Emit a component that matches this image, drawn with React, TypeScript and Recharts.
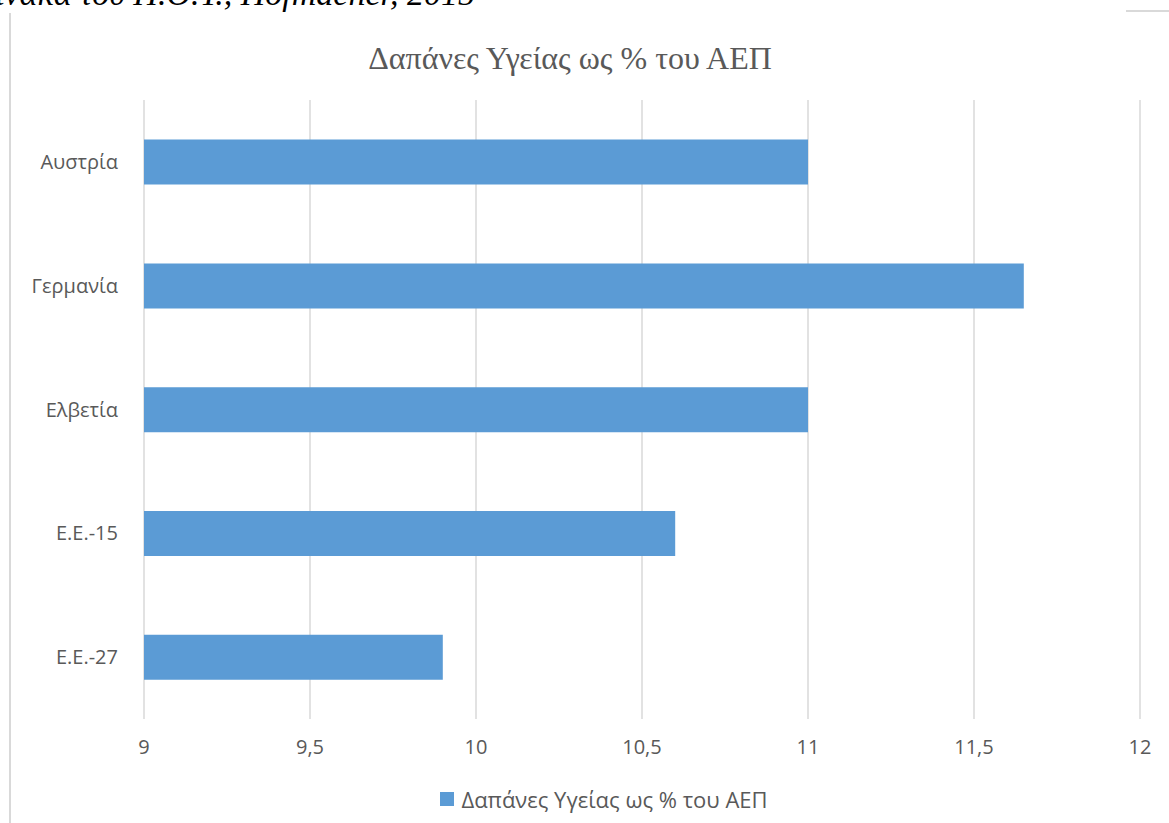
import { Bar, BarChart, CartesianGrid, Legend, XAxis, YAxis } from "recharts";

// Health expenditure as % of GDP
const countries = ["Αυστρία", "Γερμανία", "Ελβετία", "Ε.Ε.-15", "Ε.Ε.-27"];
const spending = [11, 11.65, 11, 10.6, 9.9];
const xTicks = [9, 9.5, 10, 10.5, 11, 11.5, 12];

const seriesName = "Δαπάνες Υγείας ως % του ΑΕΠ";
const barColor = "#5b9bd5";
const textColor = "#595959";
const gridColor = "#d9d9d9";

const rows = countries.map((name, i) => ({ name, value: spending[i] }));

const fmt = (v: number) => String(v).replace(".", ",");

function LegendContent() {
  return (
    <div
      style={{
        display: "flex",
        justifyContent: "center",
        alignItems: "center",
        fontFamily: "'Open Sans', sans-serif",
        fontSize: 22,
        color: textColor,
        paddingLeft: 44,
      }}
    >
      <span style={{ width: 14, height: 14, background: barColor, marginRight: 7, display: "inline-block" }} />
      <span>{seriesName}</span>
    </div>
  );
}

export default function App() {
  return (
    <div style={{ position: "absolute", left: 0, top: 0, width: 1169, height: 823, background: "#fff", overflow: "hidden" }}>
      <div
        style={{
          position: "absolute",
          left: -22,
          top: -25,
          fontFamily: "'Liberation Serif', serif",
          fontStyle: "italic",
          fontSize: 34,
          color: "#000",
          whiteSpace: "nowrap",
        }}
      >
        πίνακα του Π.Ο.Υ., Hofmacher, 2015
      </div>
      <div style={{ position: "absolute", left: 9, top: 13, width: 2, height: 810, background: gridColor }} />
      <div style={{ position: "absolute", left: 1126, top: 10, width: 43, height: 2, background: gridColor }} />
      <div
        style={{
          position: "absolute",
          left: 0,
          width: 1140,
          top: 40,
          textAlign: "center",
          fontFamily: "'Liberation Serif', serif",
          fontSize: 32,
          color: textColor,
        }}
      >
        {seriesName}
      </div>
      <BarChart
        width={1169}
        height={823}
        data={rows}
        layout="vertical"
        barCategoryGap="32%"
        margin={{ top: 100, right: 29, bottom: 11, left: 24 }}
        style={{ position: "absolute", left: 0, top: 0 }}
      >
        <CartesianGrid horizontal={false} stroke={gridColor} strokeWidth={1.5} />
        <XAxis
          type="number"
          domain={[9, 12]}
          ticks={xTicks}
          tickFormatter={fmt}
          axisLine={false}
          tickLine={false}
          tickSize={0}
          tickMargin={21}
          height={65}
          tick={{ fill: textColor, fontSize: 20, fontFamily: "'Open Sans', sans-serif" }}
        />
        <YAxis
          type="category"
          dataKey="name"
          width={120}
          axisLine={false}
          tickLine={false}
          tickSize={0}
          tickMargin={26}
          tick={{ fill: textColor, fontSize: 20, fontFamily: "'Open Sans', sans-serif" }}
        />
        <Legend verticalAlign="bottom" height={28} content={<LegendContent />} />
        <Bar dataKey="value" name={seriesName} fill={barColor} isAnimationActive={false} />
      </BarChart>
    </div>
  );
}
